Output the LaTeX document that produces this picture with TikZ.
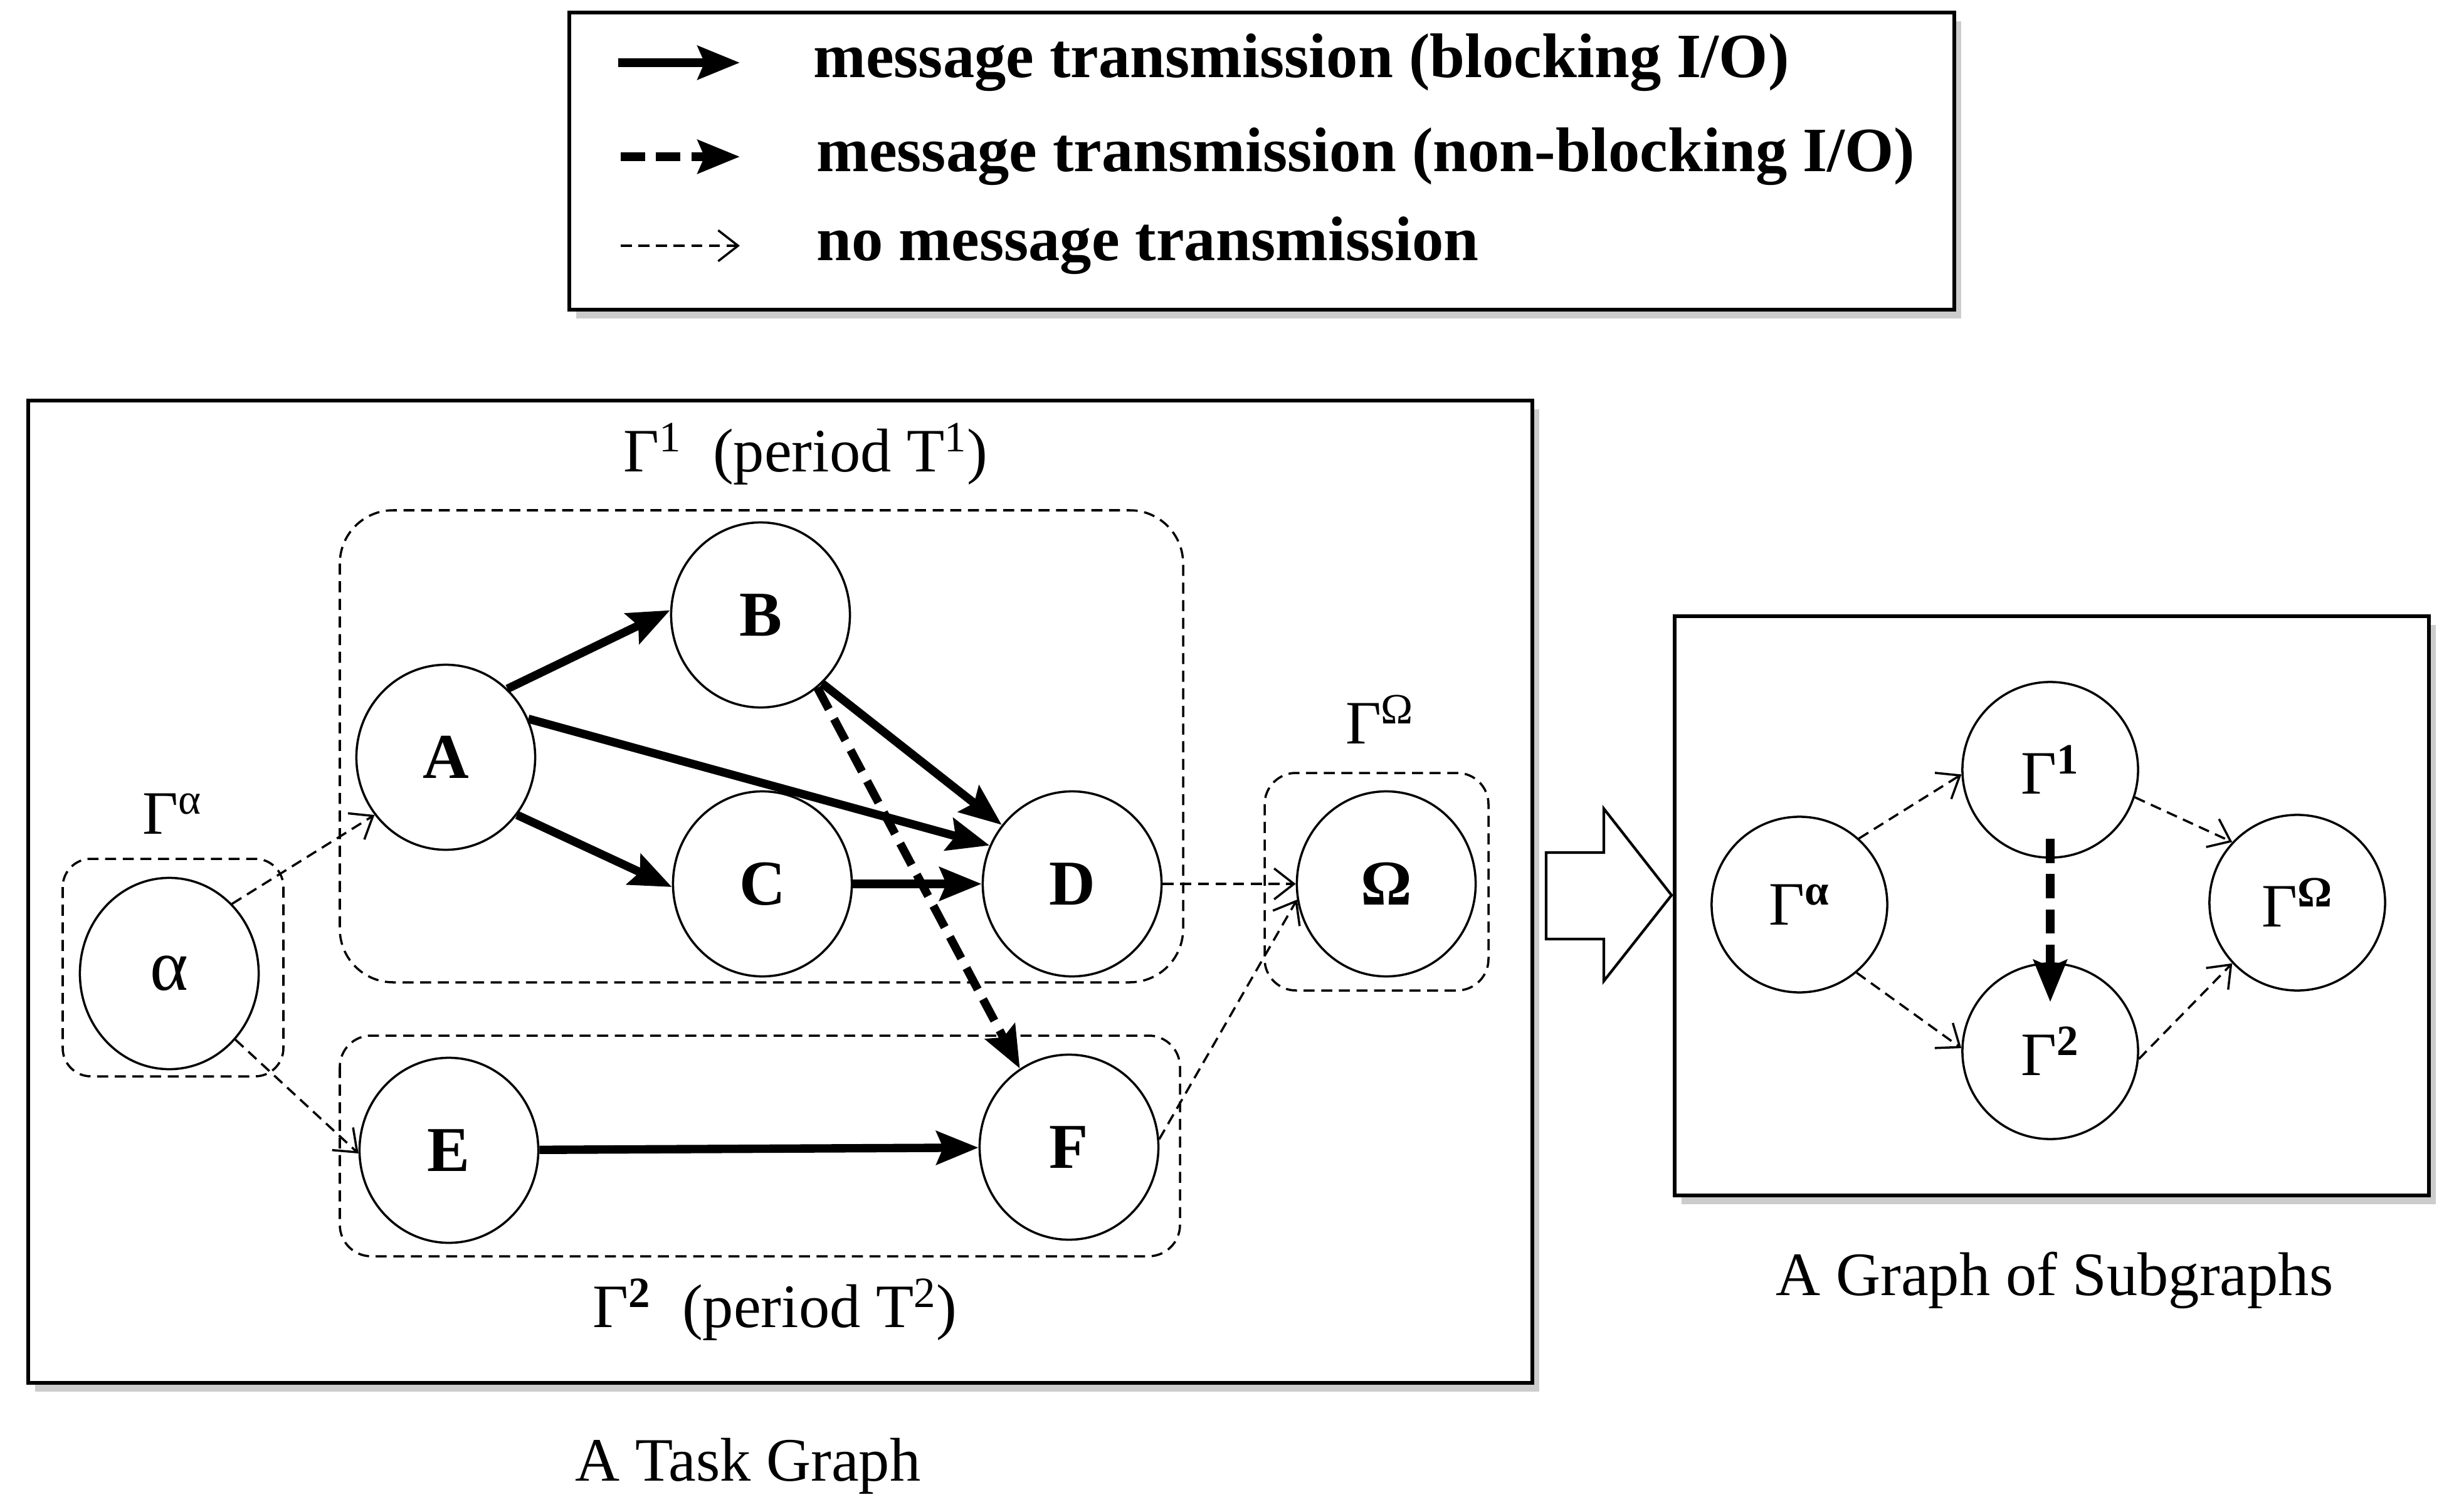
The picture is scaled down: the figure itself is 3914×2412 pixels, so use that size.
\documentclass[tikz,border=0pt]{standalone}
\usepackage{fontspec}
\setmainfont{Liberation Serif}
\usetikzlibrary{arrows.meta,shapes.geometric,shadows}

\tikzset{
  task/.style={ellipse,draw,line width=1pt,minimum width=2.85cm,minimum height=2.95cm,inner sep=0pt,font=\fontsize{29}{34}\selectfont\bfseries},
  sub/.style={ellipse,draw,line width=1pt,minimum width=2.8cm,minimum height=2.8cm,inner sep=0pt,font=\fontsize{28}{33}\selectfont},
  group/.style={draw,line width=1pt,dash pattern=on 5pt off 3pt},
  frame/.style={draw,line width=1.5pt,fill=white,drop shadow={shadow xshift=3pt,shadow yshift=-4pt,opacity=0.4}},
  blk/.style={line width=3.8pt,-{Stealth[length=19pt,width=15pt,inset=3pt]}},
  nblk/.style={blk,dash pattern=on 11pt off 5pt},
  nomsg/.style={line width=1pt,dash pattern=on 5pt off 3pt,-{Straight Barb[length=9pt,width=14pt]}},
  lbl/.style={font=\fontsize{28}{33}\selectfont},
  key/.style={anchor=west,font=\fontsize{28.6}{34}\selectfont\bfseries},
}

\begin{document}
\begin{tikzpicture}[x=0.01cm,y=-0.01cm]
\useasboundingbox (0,0) rectangle (3914,2412);

\draw[frame] (908,20) rectangle (3117,494);
\draw[frame] (45,639) rectangle (2444,2206);
\draw[frame] (2671,983) rectangle (3874,1907);

\coordinate (k1s) at (986,100);
\coordinate (k1e) at (1180,100);
\coordinate (k2s) at (990,250);
\coordinate (k2e) at (1180,250);
\coordinate (k3s) at (990,392);
\coordinate (k3e) at (1180,392);
\draw[blk] (k1s) -- (k1e);
\draw[nblk] (k2s) -- (k2e);
\draw[nomsg] (k3s) -- (k3e);
\node[key] (k1) at (1285,100) {message transmission (blocking I/O)};
\node[key] (k2) at (1290,250) {message transmission (non-blocking I/O)};
\node[key] (k3) at (1290,392) {no message transmission};

\draw[group,rounded corners=0.45cm] (100,1370) rectangle (452,1717);
\draw[group,rounded corners=0.85cm] (542,814) rectangle (1887,1567);
\draw[group,rounded corners=0.5cm] (542,1652) rectangle (1882,2004);
\draw[group,rounded corners=0.5cm] (2017,1233) rectangle (2374,1580);

\node[task,minimum height=3.05cm,font=\fontsize{33}{36}\selectfont] (al) at (270,1553) {α};
\node[task] (A) at (711,1208) {A};
\node[task] (B) at (1213,981) {B};
\node[task] (C) at (1216,1410) {C};
\node[task] (D) at (1710,1410) {D};
\node[task] (Om) at (2211,1410) {Ω};
\node[task] (E) at (716,1835) {E};
\node[task] (F) at (1705,1830) {F};

\node[lbl] (galab) at (275,1298) {Γ\textsuperscript{α}};
\node[lbl] (g1lab) at (1285,724) {Γ\textsuperscript{1}\ \ (period T\textsuperscript{1})};
\node[lbl] (gomlab) at (2201,1148) {Γ\textsuperscript{Ω}};
\node[lbl] (g2lab) at (1236,2089) {Γ\textsuperscript{\bfseries 2}\ \ (period T\textsuperscript{2})};
\node[lbl] (tasklab) at (1193,2339) {A Task Graph};
\node[lbl] (sublab) at (3277,2042) {A Graph of Subgraphs};

\draw[blk] (A.48) -- (B.177);
\draw[blk] (A.25) -- (D.155);
\draw[blk] (A.-39) -- (C.182);
\draw[blk] (B.-48) -- (D.140);
\draw[blk] (C) -- (D);
\draw[nblk] (B.-52) -- (F.122);
\draw[blk] (E) -- (F);
\draw[nomsg] (al.48) -- (A.219);
\draw[nomsg] (al.-45) -- (E.182);
\draw[nomsg] (D) -- (Om);
\draw[nomsg] (F.5) -- (Om.190);

\draw[line width=1.2pt] (2466,1360) -- (2558,1360) -- (2558,1290) -- (2666,1428) -- (2558,1565) -- (2558,1498) -- (2466,1498) -- cycle;

\node[sub] (ga) at (2870,1443) {Γ\textsuperscript{\bfseries α}};
\node[sub] (g1) at (3270,1228) {Γ\textsuperscript{\bfseries 1}};
\node[sub] (g2) at (3270,1677) {Γ\textsuperscript{\bfseries 2}};
\node[sub] (go) at (3664,1440) {Γ\textsuperscript{\bfseries Ω}};

\draw[nomsg] (ga.48) -- (g1.183);
\draw[nomsg] (ga.-50) -- (g2.178);
\draw[nblk] ([yshift=9pt]g1.south) -- ([yshift=-18pt]g2.north);
\draw[nomsg] (g1.-18) -- (go.137);
\draw[nomsg] (g2.-5) -- (go.223);
\end{tikzpicture}
\end{document}
